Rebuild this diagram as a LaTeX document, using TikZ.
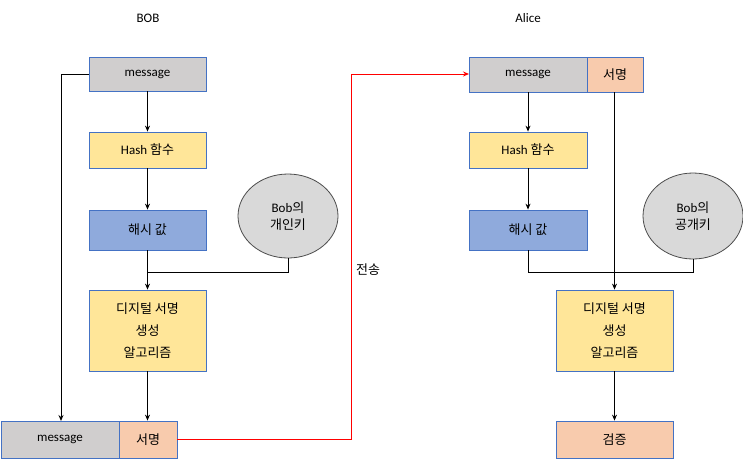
\documentclass[tikz,border=0pt]{standalone}
\usepackage{fontspec}
\setmainfont{Carlito}
\newfontfamily\kr{Noto Sans CJK KR}
\usetikzlibrary{arrows.meta,shapes.geometric}
\definecolor{gbox}{HTML}{D0CECE}
\definecolor{ybox}{HTML}{FFE699}
\definecolor{bbox}{HTML}{8FAADC}
\definecolor{obox}{HTML}{F8CBAD}
\definecolor{bord}{HTML}{4472C4}
\begin{document}
\begin{tikzpicture}[x=1pt,y=-1pt,
  every node/.style={font=\fontsize{13}{17}\selectfont},
  box/.style={draw=bord,line width=0.8pt,inner sep=0pt,align=center},
  el/.style={draw=black!70,fill=gray!30,line width=0.8pt,ellipse,inner sep=0pt,align=center},
  ar/.style={-{Stealth[length=6pt,width=5pt]},line width=1pt}]
\useasboundingbox (0,0) rectangle (743,461);
\tikzset{rect/.style args={#1,#2,#3,#4}{box,minimum width=#3,minimum height=#4}}
\node at (148,18) {BOB};
\node at (528,18) {Alice};
% left
\node[rect={,,117,34},fill=gbox] (m1) at (147.5,74) {message};
\node[rect={,,117,36},fill=ybox] (h1) at (147.5,150) {Hash {\kr 함수}};
\node[rect={,,117,40},fill=bbox] (v1) at (147.5,230) {\kr 해시 값};
\node[el,minimum width=100,minimum height=84] (k1) at (288,216) {Bob{\kr 의}\\{\kr 개인키}};
\node[rect={,,117,81},fill=ybox,font=\kr\fontsize{13}{22}\selectfont] (a1) at (147.5,330.5) {디지털 서명\\생성\\알고리즘};
\node[rect={,,118,37},fill=gbox] (m2) at (60,439.5) {message};
\node[rect={,,58,37},fill=obox,font=\kr\fontsize{13}{17}\selectfont] (s2) at (148,439.5) {서명};
\coordinate (j1) at (148,272);
\draw[ar] (m1) -- (h1);
\draw[ar] (h1) -- (v1);
\draw[ar] (v1) -- (a1);
\draw[line width=1pt] (k1.south) |- (j1);
\draw[ar] (a1) -- (s2.north -| a1);
\draw[ar] (m1.west) -- (61,74) -- (61,421);
% red
\draw[-{Stealth[length=6pt,width=5pt]},red,line width=1pt] (s2.east) -- (351,439.5) -- (351,74) -- (469,74);
\node[font=\kr\fontsize{13}{17}\selectfont] at (368,270) {전송};
% right
\node[rect={,,118,35},fill=gbox] (m3) at (528,74.5) {message};
\node[rect={,,56,35},fill=obox,font=\kr\fontsize{13}{17}\selectfont] (s3) at (615,74.5) {서명};
\node[rect={,,118,36},fill=ybox] (h3) at (528,150) {Hash {\kr 함수}};
\node[rect={,,118,40},fill=bbox] (v3) at (528,230) {\kr 해시 값};
\node[el,minimum width=100,minimum height=86] (k3) at (693,216) {Bob{\kr 의}\\{\kr 공개키}};
\node[rect={,,117,81},fill=ybox,font=\kr\fontsize{13}{22}\selectfont] (a3) at (614.5,330.5) {디지털 서명\\생성\\알고리즘};
\node[rect={,,117,37},fill=obox,font=\kr\fontsize{13}{17}\selectfont] (c3) at (614.5,439.5) {검증};
\draw[ar] (m3) -- (h3);
\draw[ar] (h3) -- (v3);
\draw[line width=1pt] (v3.south) -- (528,272) -- (693,272) -- (k3.south);
\draw[ar] (s3.south -| a3) -- (a3.north);
\draw[ar] (a3) -- (c3);
\end{tikzpicture}
\end{document}
